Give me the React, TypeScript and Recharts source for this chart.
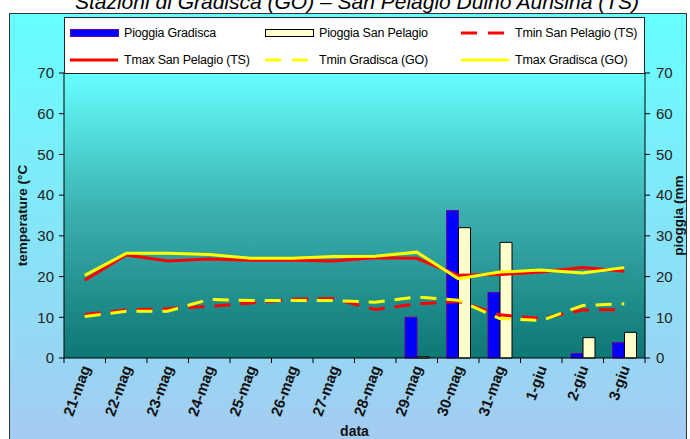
import React from "react";
import { Bar, CartesianGrid, ComposedChart, Legend, Line, XAxis, YAxis } from "recharts";

// giorni (maggio - giugno)
const dates = [
  "21-mag", "22-mag", "23-mag", "24-mag", "25-mag", "26-mag", "27-mag",
  "28-mag", "29-mag", "30-mag", "31-mag", "1-giu", "2-giu", "3-giu",
];

// pioggia (mm)
const pioggiaGradisca = [null, null, null, null, null, null, null, null, 10, 36.2, 16.1, null, 1.1, 3.8];
const pioggiaSanPelagio = [null, null, null, null, null, null, null, null, 0.3, 32, 28.4, null, 5, 6.3];

// temperature (°C)
const tminSanPelagio = [10.7, 11.8, 12.1, 12.7, 13.5, 14.4, 14.6, 11.9, 13.3, 13.9, 10.6, 9.7, 11.8, 11.9];
const tmaxSanPelagio = [19.1, 25.3, 23.8, 24.3, 24.0, 24.0, 23.8, 24.6, 24.5, 20.3, 20.5, 21.1, 22.2, 21.3];
const tminGradisca = [10.2, 11.5, 11.5, 14.4, 14.1, 14.1, 14.1, 13.7, 15.0, 14.2, 9.7, 9.2, 12.9, 13.3];
const tmaxGradisca = [20.3, 25.7, 25.7, 25.4, 24.5, 24.5, 24.9, 25.0, 26.0, 19.5, 21.1, 21.6, 20.9, 22.2];

const axisTicks = [0, 10, 20, 30, 40, 50, 60, 70];

const data = dates.map((date, i) => ({
  date,
  pioggiaGradisca: pioggiaGradisca[i],
  pioggiaSanPelagio: pioggiaSanPelagio[i],
  tminSanPelagio: tminSanPelagio[i],
  tmaxSanPelagio: tmaxSanPelagio[i],
  tminGradisca: tminGradisca[i],
  tmaxGradisca: tmaxGradisca[i],
}));

const FONT = "'Liberation Sans', Arial, sans-serif";

const legendItems = [
  { label: "Pioggia Gradisca", kind: "rect", color: "#0000ff", stroke: "#660099" },
  { label: "Pioggia San Pelagio", kind: "rect", color: "#ffffcc", stroke: "#000000" },
  { label: "Tmin San Pelagio (TS)", kind: "dash", color: "#ff0000" },
  { label: "Tmax San Pelagio (TS)", kind: "line", color: "#ff0000" },
  { label: "Tmin Gradisca (GO)", kind: "dash", color: "#ffff00" },
  { label: "Tmax Gradisca (GO)", kind: "line", color: "#ffff00" },
];

function LegendBox() {
  return (
    <div
      style={{
        width: 581,
        height: 57,
        boxSizing: "border-box",
        background: "#fff",
        border: "1px solid #222",
        display: "grid",
        gridTemplateColumns: "195px 196px 190px",
        gridTemplateRows: "27px 27px",
        paddingTop: 1,
        fontFamily: FONT,
        fontSize: 12.5,
        color: "#000",
      }}
    >
      {legendItems.map((it) => (
        <div key={it.label} style={{ display: "flex", alignItems: "center", paddingLeft: 5 }}>
          <svg width={49} height={10} style={{ marginRight: 5, flex: "none" }}>
            {it.kind === "rect" ? (
              <rect x={0.5} y={1.5} width={48} height={7} fill={it.color} stroke={it.stroke} />
            ) : (
              <line
                x1={0}
                y1={5}
                x2={48}
                y2={5}
                stroke={it.color}
                strokeWidth={3}
                strokeDasharray={it.kind === "dash" ? "16 11" : undefined}
              />
            )}
          </svg>
          <span style={{ whiteSpace: "nowrap", letterSpacing: -0.2 }}>{it.label}</span>
        </div>
      ))}
    </div>
  );
}

function DateTick(props: any) {
  const { x, y, payload, index, visibleTicksCount, width } = props;
  const half = width / visibleTicksCount / 2;
  const top = y - 8;
  return (
    <g>
      <line x1={x - half} y1={top} x2={x - half} y2={top + 5} stroke="#000" />
      {index === visibleTicksCount - 1 && (
        <line x1={x + half} y1={top} x2={x + half} y2={top + 5} stroke="#000" />
      )}
      <text
        x={x + 1}
        y={y}
        dy="0.35em"
        textAnchor="end"
        transform={`rotate(-70, ${x + 1}, ${y})`}
        fontFamily={FONT}
        fontSize={15}
        fontWeight="bold"
        fill="#111"
      >
        {payload.value}
      </text>
    </g>
  );
}

const tickStyle = { fill: "#222", fontSize: 15, fontFamily: FONT };
const labelStyle = { textAnchor: "middle" as const, fontWeight: "bold", fontSize: 13.5, fill: "#111", fontFamily: FONT };

export default function App() {
  return (
    <div style={{ position: "absolute", left: 0, top: 0, width: 690, height: 439, overflow: "hidden" }}>
      <div
        style={{
          position: "absolute",
          left: 9,
          top: 13,
          width: 678,
          height: 440,
          border: "1px solid #333",
          boxSizing: "border-box",
          background: "linear-gradient(#66ffff, #a6caf0)",
        }}
      />
      <svg width={690} height={20} style={{ position: "absolute", left: 0, top: 0 }}>
        <text x={357} y={9} textAnchor="middle" fontFamily={FONT} fontSize={21} fontStyle="italic" fill="#000">
          Stazioni di Gradisca (GO) – San Pelagio Duino Aurisina (TS)
        </text>
      </svg>
      <div style={{ position: "absolute", left: 0, top: 0 }}>
        <ComposedChart
          width={690}
          height={439}
          data={data}
          margin={{ top: 73, right: 0, bottom: 0, left: 0 }}
          barGap={0}
          barSize={12}
        >
          <defs>
            <linearGradient id="plotGrad" x1="0" y1="0" x2="0" y2="1">
              <stop offset="0%" stopColor="#66ffff" />
              <stop offset="50%" stopColor="#3aaeae" />
              <stop offset="100%" stopColor="#0d7775" />
            </linearGradient>
          </defs>
          <CartesianGrid horizontal={false} vertical={false} fill="url(#plotGrad)" fillOpacity={1} />
          <XAxis
            dataKey="date"
            interval={0}
            height={81}
            tickLine={false}
            tickSize={5}
            tickMargin={3}
            axisLine={{ stroke: "#000" }}
            tick={<DateTick />}
            label={{ value: "data", position: "insideBottom", offset: 3, style: { ...labelStyle, fontSize: 14 } }}
          />
          <YAxis
            domain={[0, 70]}
            ticks={axisTicks}
            width={64}
            tickSize={5}
            tickMargin={5}
            axisLine={{ stroke: "#000" }}
            tickLine={{ stroke: "#000" }}
            tick={tickStyle}
            label={{ value: "temperature (°C", angle: -90, position: "insideLeft", offset: 22, style: labelStyle }}
          />
          <YAxis
            yAxisId="p"
            orientation="right"
            domain={[0, 70]}
            ticks={axisTicks}
            width={45}
            tickSize={5}
            tickMargin={6}
            axisLine={{ stroke: "#000" }}
            tickLine={{ stroke: "#000" }}
            tick={{ ...tickStyle, textAnchor: "start" }}
            label={{ value: "pioggia (mm", angle: -90, position: "insideRight", offset: 12, style: labelStyle }}
          />
          <Legend
            layout="vertical"
            align="center"
            verticalAlign="middle"
            wrapperStyle={{ top: 17, left: 64, width: 581, height: 57 }}
            content={() => <LegendBox />}
          />
          <Bar yAxisId="p" dataKey="pioggiaGradisca" name="Pioggia Gradisca" fill="#0000ff" stroke="#660099" strokeWidth={1} isAnimationActive={false} />
          <Bar yAxisId="p" dataKey="pioggiaSanPelagio" name="Pioggia San Pelagio" fill="#ffffcc" stroke="#000" strokeWidth={1} isAnimationActive={false} />
          <Line dataKey="tminSanPelagio" name="Tmin San Pelagio (TS)" stroke="#ff0000" strokeWidth={3} strokeDasharray="16 10" dot={false} activeDot={false} isAnimationActive={false} />
          <Line dataKey="tmaxSanPelagio" name="Tmax San Pelagio (TS)" stroke="#ff0000" strokeWidth={3} dot={false} activeDot={false} isAnimationActive={false} />
          <Line dataKey="tminGradisca" name="Tmin Gradisca (GO)" stroke="#ffff00" strokeWidth={3} strokeDasharray="16 10" dot={false} activeDot={false} isAnimationActive={false} />
          <Line dataKey="tmaxGradisca" name="Tmax Gradisca (GO)" stroke="#ffff00" strokeWidth={3} dot={false} activeDot={false} isAnimationActive={false} />
        </ComposedChart>
      </div>
    </div>
  );
}
